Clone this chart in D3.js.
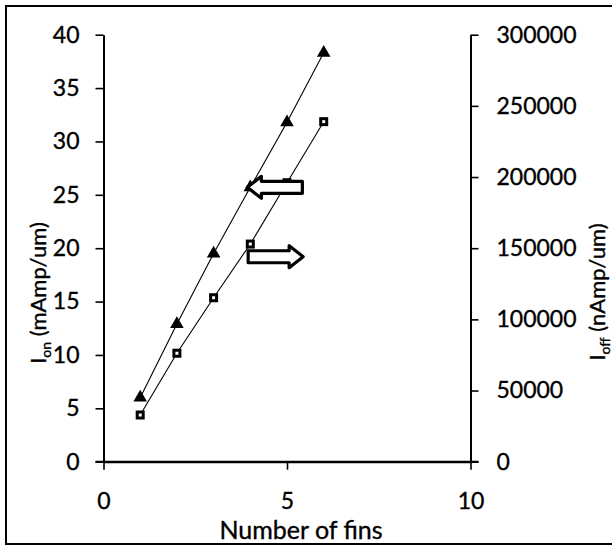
<!DOCTYPE html>
<html>
<head>
<meta charset="utf-8">
<script src="https://cdn.jsdelivr.net/npm/d3@7"></script>
<style>
  html, body { margin: 0; padding: 0; background: #fff; }
  svg { display: block; }
  text { font-family: Lato, "Open Sans", sans-serif; fill: #000; stroke: #000; stroke-width: 0.35px; }
</style>
</head>
<body>
<svg id="chart" width="612" height="546"></svg>
<script>
// ---- Data ----
const fins = [1, 2, 3, 4, 5, 6];
const ionValues = [6.0, 12.9, 19.5, 25.7, 31.8, 38.3];              // mAmp/um (left axis)
const ioffValues = [32800, 76200, 115200, 152900, 196000, 238900];  // nAmp/um (right axis)
const xTicks = [0, 5, 10];
const leftTicks = [0, 5, 10, 15, 20, 25, 30, 35, 40];
const rightTicks = [0, 50000, 100000, 150000, 200000, 250000, 300000];
const xLabel = "Number of fins";
// arrow annotations (tip position in data units, left-axis units for y)
const arrowDirs = ["left", "right"];
const arrowX = [3.92, 5.44];
const arrowY = [25.7, 19.2];

// ---- Layout ----
const svg = d3.select("#chart");
const L = 103.5, R = 470.5, T = 34.7, B = 461.7;

const x = d3.scaleLinear().domain([0, 10]).range([L, R]);
const yL = d3.scaleLinear().domain([0, 40]).range([B, T]);
const yR = d3.scaleLinear().domain([0, 300000]).range([B, T]);

// frame
svg.append("rect")
  .attr("x", 6).attr("y", 6).attr("width", 640).attr("height", 538)
  .attr("fill", "none").attr("stroke", "#000").attr("stroke-width", 2);

const fs = 23;

// x axis
const gx = svg.append("g").attr("transform", `translate(0,${B})`)
  .call(d3.axisBottom(x).tickValues(xTicks).tickSize(8).tickSizeOuter(0).tickPadding(23));
// left axis
const gl = svg.append("g").attr("transform", `translate(${L},0)`)
  .call(d3.axisLeft(yL).tickValues(leftTicks).tickSize(8).tickSizeOuter(0).tickPadding(16));
// right axis
const gr = svg.append("g").attr("transform", `translate(${R},0)`)
  .call(d3.axisRight(yR).tickValues(rightTicks).tickFormat(d3.format("d")).tickSize(8).tickSizeOuter(0).tickPadding(18));

[gx, gl, gr].forEach(g => {
  g.select(".domain").attr("stroke", "#000").attr("stroke-width", 2);
  g.selectAll(".tick line").attr("stroke", "#000").attr("stroke-width", 1.6);
  g.selectAll(".tick text").attr("font-size", fs).attr("font-family", "Lato, sans-serif").attr("fill", "#000");
});
// x-axis line extends under left/right ticks
svg.append("line").attr("x1", L - 8).attr("x2", R + 8).attr("y1", B).attr("y2", B)
  .attr("stroke", "#000").attr("stroke-width", 2);

// axis titles
svg.append("text")
  .attr("x", 301).attr("y", 539)
  .attr("text-anchor", "middle").attr("font-size", 25)
  .text(xLabel);

const tl = svg.append("text")
  .attr("transform", `translate(46,293) rotate(-90)`)
  .attr("text-anchor", "middle").attr("font-size", 22);
tl.append("tspan").text("I");
tl.append("tspan").attr("font-size", 14).attr("dy", 5).text("on");
tl.append("tspan").attr("dy", -5).text(" (mAmp/um)");

const tr = svg.append("text")
  .attr("transform", `translate(605,292) rotate(-90)`)
  .attr("text-anchor", "middle").attr("font-size", 22);
tr.append("tspan").text("I");
tr.append("tspan").attr("font-size", 14).attr("dy", 5).text("off");
tr.append("tspan").attr("dy", -5).text(" (nAmp/um)");

// ---- Series ----
const ionData = fins.map((f, i) => ({ f, v: ionValues[i] }));
const ioffData = fins.map((f, i) => ({ f, v: ioffValues[i] }));

svg.append("path").datum(ionData)
  .attr("fill", "none").attr("stroke", "#000").attr("stroke-width", 1.1)
  .attr("d", d3.line().x(d => x(d.f)).y(d => yL(d.v)));
svg.append("path").datum(ioffData)
  .attr("fill", "none").attr("stroke", "#000").attr("stroke-width", 1.1)
  .attr("d", d3.line().x(d => x(d.f)).y(d => yR(d.v)));

const tri = d3.symbol().type(d3.symbolTriangle).size(80);
svg.selectAll(".tri").data(ionData).enter().append("path")
  .attr("transform", d => `translate(${x(d.f)},${yL(d.v)})`)
  .attr("d", tri).attr("fill", "#000");

svg.selectAll(".sq").data(ioffData).enter().append("rect")
  .attr("x", d => x(d.f) - 3).attr("y", d => yR(d.v) - 3)
  .attr("width", 6).attr("height", 6)
  .attr("fill", "#fff").attr("stroke", "#000").attr("stroke-width", 3);

// ---- Block arrows ----
function arrowPath(dir) {
  const s = dir === "left" ? 1 : -1;
  const pts = [[0,0],[14,-11],[14,-6],[55,-6],[55,6],[14,6],[14,11]]
    .map(p => [p[0] * s, p[1]]);
  return d3.line()(pts) + "Z";
}
arrowDirs.forEach((dir, i) => {
  svg.append("path")
    .attr("transform", `translate(${x(arrowX[i])},${yL(arrowY[i])})`)
    .attr("d", arrowPath(dir))
    .attr("fill", "#fff").attr("stroke", "#000").attr("stroke-width", 3.2)
    .attr("stroke-linejoin", "round");
});
</script>
</body>
</html>
